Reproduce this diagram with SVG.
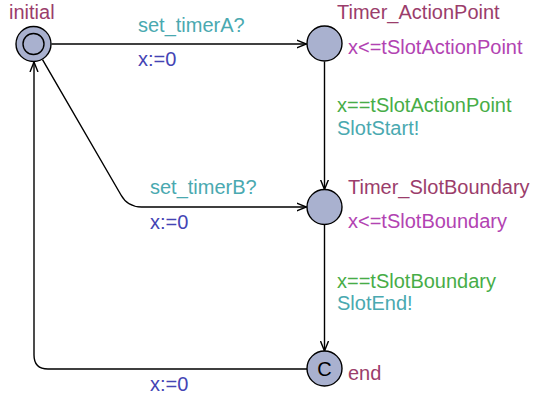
<svg xmlns="http://www.w3.org/2000/svg" width="534" height="399" viewBox="0 0 534 399">
  <style>
    text { font-family: "Liberation Sans", Arial, sans-serif; font-size: 20px; }
    .name { fill: #9b3d6b; }
    .inv { fill: #b243b2; }
    .guard { fill: #47ad47; }
    .sync { fill: #4aa9b0; }
    .assign { fill: #4444b4; }
    .loc { fill: #a9b1cf; stroke: #000; stroke-width: 1.4; }
    .edge { fill: none; stroke: #000; stroke-width: 1.4; }
  </style>
  <defs>
    <marker id="arrow" viewBox="0 0 10 10" refX="10" refY="5" markerWidth="10" markerHeight="10" markerUnits="userSpaceOnUse" orient="auto">
      <path d="M0,1 L10,5 L0,9" fill="none" stroke="#000" stroke-width="1.4"/>
    </marker>
  </defs>

  <g id="edges">
    <!-- initial -> Timer_ActionPoint -->
    <path class="edge" d="M51.5,44 L306.5,44" marker-end="url(#arrow)"/>
    <!-- initial -> Timer_SlotBoundary -->
    <path class="edge" d="M42.5,59.6 L121,195 Q127.6,207 141.5,207 L306.5,207" marker-end="url(#arrow)"/>
    <!-- Timer_ActionPoint -> Timer_SlotBoundary -->
    <path class="edge" d="M324.5,61.5 L324.5,189.5" marker-end="url(#arrow)"/>
    <!-- Timer_SlotBoundary -> end -->
    <path class="edge" d="M324.5,224.5 L324.5,351" marker-end="url(#arrow)"/>
    <!-- end -> initial -->
    <path class="edge" d="M307,369 L48,369 Q34,369 34,355 L34,62" marker-end="url(#arrow)"/>
  </g>

  <g id="edge-labels">
    <text class="sync" x="138" y="31.5">set_timerA?</text>
    <text class="assign" x="138" y="66">x:=0</text>
    <text class="sync" x="150" y="193.5">set_timerB?</text>
    <text class="assign" x="150" y="228.5">x:=0</text>
    <text class="guard" x="337" y="111.5">x==tSlotActionPoint</text>
    <text class="sync" x="337" y="135">SlotStart!</text>
    <text class="guard" x="337" y="287.5">x==tSlotBoundary</text>
    <text class="sync" x="337" y="310">SlotEnd!</text>
    <text class="assign" x="150" y="390.5">x:=0</text>
  </g>

  <g id="initial">
    <circle class="loc" cx="33.5" cy="44" r="17.5"/>
    <circle class="loc" cx="33.5" cy="44" r="10.5"/>
    <text class="name" x="9" y="18.5">initial</text>
  </g>

  <g id="Timer_ActionPoint">
    <circle class="loc" cx="324.5" cy="43.5" r="17.5"/>
    <text class="name" x="337" y="18.5">Timer_ActionPoint</text>
    <text class="inv" x="348" y="54">x&lt;=tSlotActionPoint</text>
  </g>

  <g id="Timer_SlotBoundary">
    <circle class="loc" cx="324.5" cy="207" r="17.5"/>
    <text class="name" x="348" y="193.5">Timer_SlotBoundary</text>
    <text class="inv" x="348" y="228">x&lt;=tSlotBoundary</text>
  </g>

  <g id="end">
    <circle class="loc" cx="324.5" cy="368.5" r="17.5"/>
    <text x="324.5" y="375.5" text-anchor="middle" fill="#000" style="font-weight:300">C</text>
    <text class="name" x="348" y="379.5">end</text>
  </g>
</svg>
